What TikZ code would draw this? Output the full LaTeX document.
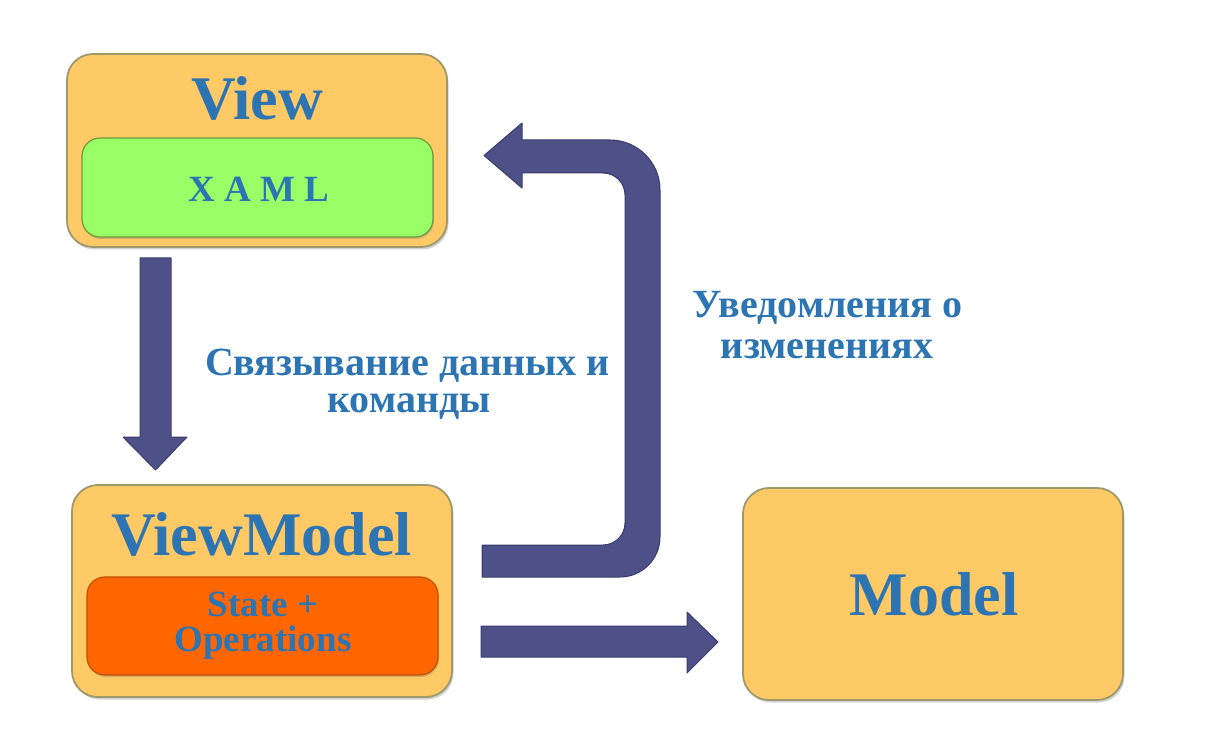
\documentclass[tikz,border=0pt]{standalone}
\usepackage{fontspec}
\setmainfont{Liberation Serif}
\usetikzlibrary{shadows}
\definecolor{boxfill}{HTML}{FFC966}
\definecolor{boxline}{HTML}{9C9A6C}
\definecolor{greenfill}{HTML}{99FF66}
\definecolor{greenline}{HTML}{6E9A3A}
\definecolor{orangefill}{HTML}{FF6600}
\definecolor{orangeline}{HTML}{C04E00}
\definecolor{arrowfill}{HTML}{4E5088}
\definecolor{arrowline}{HTML}{3A3C6C}
\definecolor{txtblue}{HTML}{2C74B2}
\begin{document}
\begin{tikzpicture}[x=1pt,y=-1pt,
  outerbox/.style={draw=boxline, line width=1.8pt, fill=boxfill, rounded corners=26pt,
    minimum width=380pt, inner sep=0pt,
    drop shadow={shadow xshift=1.5pt,shadow yshift=-2.5pt,opacity=0.35}},
  innerbox/.style={line width=1.2pt, rounded corners=18pt, minimum width=351pt, inner sep=0pt,
    drop shadow={shadow xshift=1pt,shadow yshift=-2pt,opacity=0.35}},
  title/.style={font=\fontsize{62}{62}\selectfont\bfseries, text=txtblue, inner sep=0pt, anchor=base},
  lab/.style={font=\fontsize{40}{40}\selectfont\bfseries, text=txtblue, inner sep=0pt, anchor=base},
  blockarrow/.style={fill=arrowfill, draw=arrowline, line width=1pt, line join=round}
]
\useasboundingbox (0,0) rectangle (1211,730);
\fill[white] (0,0) rectangle (1211,730);

% boxes
\node[outerbox, minimum height=193pt] (view) at (257,150.5) {};
\node[innerbox, fill=greenfill, draw=greenline, minimum height=99pt] (xaml) at (257.5,187.5) {};
\node[outerbox, minimum height=212pt] (vm) at (262,591) {};
\node[innerbox, fill=orangefill, draw=orangeline, minimum height=98pt] (ops) at (262.5,626) {};
\node[outerbox, minimum height=212pt] (model) at (933,594) {};

% titles
\node[title] (viewt) at (257,120) {View};
\node[font=\fontsize{37}{37}\selectfont\bfseries\addfontfeatures{LetterSpace=25}, text=txtblue, inner sep=0pt, anchor=base] (xamlt) at (258.5,202) {XAML};
\node[title] (vmt) at (261.5,555) {ViewModel};
\node[font=\fontsize{37}{35}\selectfont\bfseries, text=txtblue, inner sep=0pt, align=center] (opst) at (263,626) {State +\\Operations};
\node[title] (modelt) at (934,615) {Model};

% labels
\node[lab] (l1a) at (407.5,375) {Связывание данных и};
\node[lab] (l1b) at (409,412) {команды};
\node[lab] (l2a) at (827.5,318) {Уведомления о};
\node[lab] (l2b) at (827,358) {изменениях};

% down arrow View -> ViewModel
\draw[blockarrow] (140,258) -- (171,258) -- (171,437) -- (187,437) -- (155.5,470)
  -- (123,437) -- (140,437) -- cycle;

% right arrow ViewModel -> Model
\draw[blockarrow] (481,626) -- (687,626) -- (687,612) -- (718,642) -- (687,673)
  -- (687,657) -- (481,657) -- cycle;

% U-shaped arrow ViewModel -> View
\draw[blockarrow] (482,545) -- (603,545) arc[start angle=90, end angle=0, radius=22]
  -- (625,195) arc[start angle=0, end angle=-90, radius=22]
  -- (522,173) -- (522,188) -- (484,155.5) -- (522,123) -- (522,140) -- (610,140)
  arc[start angle=-90, end angle=0, radius=50]
  -- (660,537) arc[start angle=0, end angle=90, radius=40]
  -- (482,577) -- cycle;
\end{tikzpicture}
\end{document}
